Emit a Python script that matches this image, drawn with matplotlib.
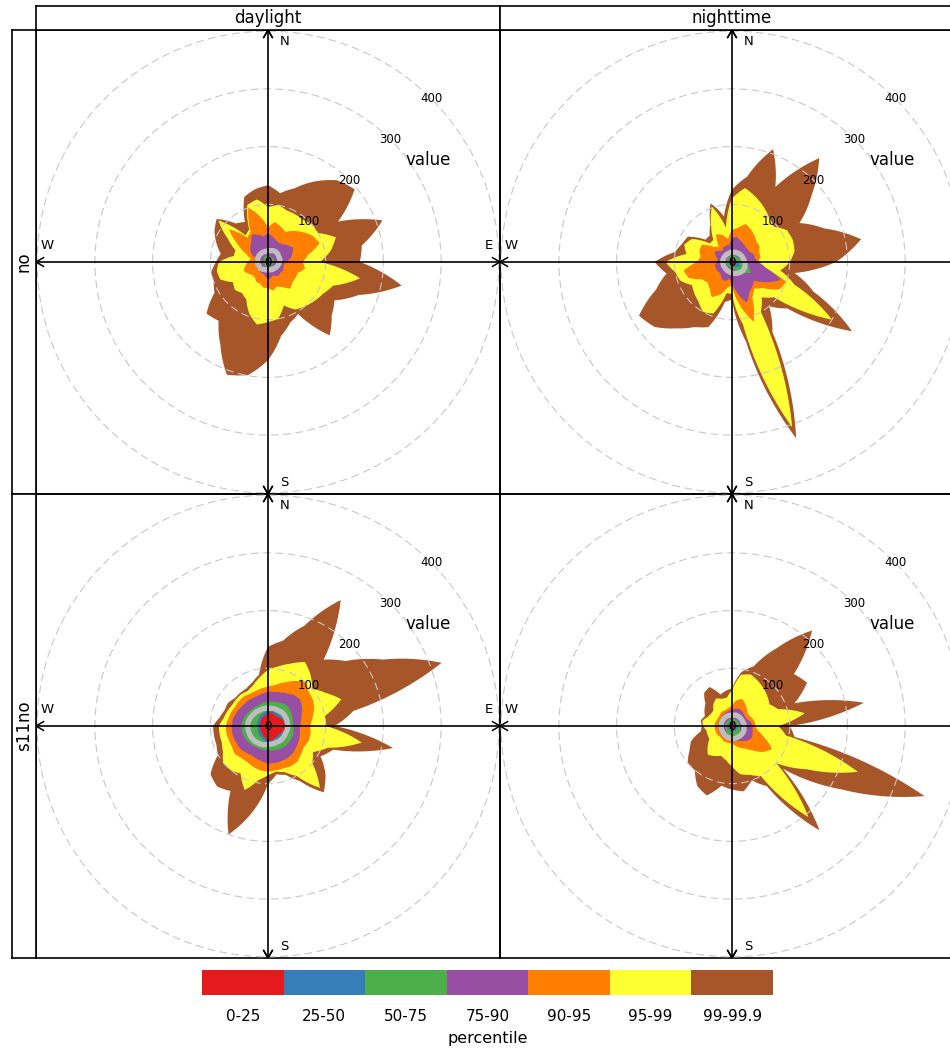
import numpy as np
import matplotlib.pyplot as plt
from matplotlib.path import Path
from matplotlib.patches import PathPatch

# wind directions (degrees from north) of every percentile point
dirs = np.arange(0, 360, 10)

levels = ['0-25', '25-50', '50-75', '75-90', '90-95', '95-99', '99-99.9']
colours = ['#E41A1C', '#377EB8', '#4DAF4A', '#984EA3', '#FF7F00', '#FFFF33', '#A65628']
grid_vals = [100, 200, 300, 400]

# ---- no, daylight
no_day_p25 = [4, 4, 4, 4, 4, 4, 4, 4, 4, 4, 3, 3, 3, 3, 3, 3, 3, 3, 3, 3, 3, 3, 3, 3, 3, 3, 3, 3, 3, 3, 3, 4, 4, 4, 4, 4]
no_day_p50 = [7, 7, 7, 7, 7, 7, 7, 7, 7, 6, 6, 6, 6, 6, 6, 5, 5, 5, 6, 5, 5, 5, 5, 5, 5, 5, 5, 5, 5, 6, 6, 6, 6, 7, 7, 7]
no_day_p75 = [11, 11, 11, 10, 10, 11, 11, 11, 11, 10, 10, 9, 9, 9, 9, 9, 9, 9, 9, 9, 8, 8, 8, 8, 8, 8, 8, 8, 8, 9, 9, 10, 10, 11, 11, 11]
no_day_p90 = [50, 45, 40, 38, 40, 45, 50, 45, 40, 30, 28, 28, 30, 28, 30, 28, 25, 28, 30, 25, 22, 22, 22, 20, 22, 22, 20, 20, 20, 25, 35, 40, 45, 55, 50, 45]
no_day_p95 = [60, 70, 65, 60, 70, 80, 90, 95, 70, 60, 65, 55, 55, 55, 60, 50, 45, 50, 45, 45, 40, 40, 35, 35, 40, 45, 40, 35, 30, 40, 60, 88, 55, 60, 100, 80]
no_day_p99 = [95, 100, 95, 95, 95, 100, 100, 125, 110, 90, 162, 120, 110, 105, 100, 95, 80, 100, 104, 110, 95, 75, 70, 75, 70, 88, 90, 85, 60, 60, 80, 112, 60, 65, 105, 110]
no_day_p999 = [133, 121, 136, 161, 185, 196, 140, 211, 165, 159, 235, 167, 133, 144, 166, 104, 112, 130, 170, 199, 208, 165, 133, 139, 107, 100, 100, 90, 83, 95, 107, 116, 87, 80, 120, 128]
no_day_mean = [19, 20, 21, 22, 22, 22, 21, 21, 21, 20, 19, 18, 17, 16, 15, 15, 14, 14, 14, 14, 14, 15, 16, 17, 17, 17, 18, 18, 18, 19, 19, 19, 19, 19, 19, 19]

# ---- no, nighttime
no_night_p25 = [4, 4, 4, 4, 5, 5, 5, 5, 5, 5, 6, 7, 8, 7, 6, 5, 5, 5, 4, 4, 4, 4, 4, 4, 4, 4, 4, 4, 4, 4, 4, 4, 4, 4, 4, 4]
no_night_p50 = [7, 7, 7, 7, 8, 8, 8, 8, 9, 10, 12, 14, 16, 14, 11, 9, 8, 8, 7, 7, 7, 7, 6, 6, 6, 6, 6, 6, 6, 6, 6, 7, 7, 7, 7, 7]
no_night_p75 = [11, 11, 12, 12, 12, 12, 13, 14, 16, 19, 24, 32, 38, 30, 22, 17, 14, 12, 11, 10, 10, 10, 10, 10, 10, 10, 10, 10, 10, 10, 10, 10, 10, 10, 10, 11]
no_night_p90 = [40, 45, 40, 38, 35, 35, 35, 40, 40, 45, 60, 90, 70, 50, 55, 60, 75, 55, 35, 30, 35, 35, 30, 28, 30, 30, 30, 25, 25, 30, 35, 30, 25, 30, 30, 30]
no_night_p95 = [55, 60, 70, 65, 60, 55, 55, 50, 50, 45, 50, 100, 95, 70, 60, 70, 110, 75, 40, 45, 60, 70, 60, 55, 60, 80, 85, 60, 55, 60, 60, 40, 35, 55, 50, 40]
no_night_p99 = [110, 130, 120, 110, 100, 95, 110, 112, 110, 100, 85, 115, 200, 95, 80, 100, 305, 110, 55, 55, 95, 100, 90, 85, 80, 95, 100, 115, 80, 88, 80, 50, 50, 72, 102, 60]
no_night_p999 = [125, 150, 208, 150, 235, 180, 135, 170, 227, 180, 110, 150, 240, 125, 100, 140, 325, 140, 65, 70, 120, 130, 150, 175, 186, 140, 115, 134, 100, 92, 88, 60, 60, 75, 108, 80]
no_night_mean = [17, 17, 18, 18, 19, 19, 20, 20, 21, 22, 23, 24, 24, 24, 23, 22, 21, 20, 19, 18, 17, 17, 16, 16, 16, 16, 16, 16, 16, 16, 16, 16, 16, 16, 16, 17]

# ---- s11no, daylight
s11_day_p25 = [22, 24, 24, 22, 22, 24, 26, 28, 29, 30, 29, 27, 25, 24, 24, 24, 25, 26, 25, 22, 20, 18, 17, 16, 15, 14, 14, 14, 14, 15, 15, 16, 17, 18, 19, 20]
s11_day_p50 = [27, 28, 28, 27, 27, 28, 30, 32, 33, 34, 33, 31, 29, 28, 28, 28, 29, 30, 29, 27, 25, 23, 22, 21, 20, 19, 19, 19, 19, 20, 20, 21, 22, 23, 24, 25]
s11_day_p75 = [42, 43, 44, 46, 48, 48, 46, 45, 44, 44, 45, 46, 46, 46, 46, 45, 44, 43, 42, 42, 42, 42, 43, 44, 45, 46, 46, 46, 45, 44, 42, 41, 40, 40, 40, 41]
s11_day_p90 = [59, 60, 62, 65, 70, 72, 68, 62, 58, 55, 56, 58, 60, 62, 64, 65, 65, 65, 65, 62, 60, 58, 60, 62, 62, 63, 63, 63, 62, 60, 58, 56, 56, 55, 55, 57]
s11_day_p95 = [68, 72, 80, 90, 100, 92, 90, 85, 78, 73, 75, 75, 72, 75, 80, 80, 78, 78, 79, 78, 75, 72, 72, 75, 72, 72, 73, 73, 70, 68, 66, 66, 66, 64, 64, 66]
s11_day_p99 = [97, 105, 115, 128, 115, 100, 115, 135, 100, 100, 165, 110, 90, 100, 140, 100, 85, 80, 85, 95, 118, 95, 100, 101, 90, 85, 85, 85, 78, 75, 72, 72, 72, 70, 75, 85]
s11_day_p999 = [137, 150, 185, 252, 150, 175, 230, 320, 150, 115, 220, 120, 105, 130, 150, 110, 90, 85, 100, 150, 200, 130, 137, 130, 100, 95, 95, 95, 85, 80, 80, 75, 75, 75, 80, 90]
s11_day_mean = [31, 31, 32, 32, 33, 34, 34, 34, 34, 34, 34, 33, 33, 33, 33, 32, 32, 32, 32, 33, 34, 34, 35, 35, 35, 35, 35, 35, 35, 34, 33, 32, 32, 31, 31, 31]

# ---- s11no, nighttime
s11_night_p25 = [5, 5, 6, 6, 6, 6, 6, 6, 7, 7, 7, 7, 7, 7, 7, 7, 7, 7, 7, 6, 6, 6, 6, 5, 5, 5, 5, 5, 5, 5, 5, 5, 5, 5, 5, 5]
s11_night_p50 = [8, 8, 9, 9, 9, 9, 9, 9, 10, 10, 10, 10, 10, 10, 10, 10, 10, 10, 10, 10, 9, 9, 9, 8, 8, 8, 8, 8, 8, 8, 8, 8, 8, 8, 8, 8]
s11_night_p75 = [12, 12, 13, 13, 13, 13, 13, 13, 14, 14, 14, 15, 16, 17, 18, 19, 20, 21, 22, 20, 17, 15, 14, 13, 12, 12, 12, 12, 12, 12, 12, 12, 12, 12, 12, 12]
s11_night_p90 = [28, 30, 32, 32, 30, 28, 28, 30, 34, 36, 36, 38, 40, 38, 34, 30, 28, 26, 25, 24, 24, 24, 24, 24, 24, 24, 24, 24, 24, 24, 24, 24, 25, 25, 26, 27]
s11_night_p95 = [35, 45, 50, 45, 40, 35, 35, 38, 40, 40, 45, 60, 80, 70, 55, 45, 40, 35, 30, 30, 30, 30, 28, 28, 30, 30, 30, 30, 30, 28, 28, 28, 30, 30, 30, 32]
s11_night_p99 = [62, 90, 95, 90, 85, 80, 75, 85, 128, 80, 95, 232, 150, 100, 206, 100, 90, 85, 70, 60, 55, 60, 65, 55, 45, 45, 45, 50, 52, 45, 42, 42, 50, 55, 50, 50]
s11_night_p999 = [65, 95, 110, 156, 216, 140, 150, 115, 232, 100, 110, 355, 220, 115, 236, 120, 100, 115, 110, 105, 128, 120, 100, 100, 85, 75, 55, 52, 55, 50, 55, 60, 75, 78, 58, 62]
s11_night_mean = [19, 19, 20, 20, 20, 20, 20, 20, 21, 21, 21, 22, 22, 22, 22, 22, 22, 22, 22, 21, 21, 20, 20, 19, 19, 19, 19, 19, 19, 19, 19, 19, 19, 19, 19, 19]

panels = [
    (0, 0, [no_day_p25, no_day_p50, no_day_p75, no_day_p90, no_day_p95, no_day_p99, no_day_p999], no_day_mean),
    (0, 1, [no_night_p25, no_night_p50, no_night_p75, no_night_p90, no_night_p95, no_night_p99, no_night_p999], no_night_mean),
    (1, 0, [s11_day_p25, s11_day_p50, s11_day_p75, s11_day_p90, s11_day_p95, s11_day_p99, s11_day_p999], s11_day_mean),
    (1, 1, [s11_night_p25, s11_night_p50, s11_night_p75, s11_night_p90, s11_night_p95, s11_night_p99, s11_night_p999], s11_night_mean),
]
col_names = ['daylight', 'nighttime']
row_names = ['no', 's11no']

W, H = 950, 1053
fig = plt.figure(figsize=(W / 100, H / 100), dpi=100)


def px_rect(x, y, w, h):
    # figure fraction box from a pixel box, y measured from the top
    return [x / W, 1 - (y + h) / H, w / W, h / H]


def frame(ax, lw=1.2):
    ax.set_xticks([])
    ax.set_yticks([])
    for s in ax.spines.values():
        s.set_linewidth(lw)
        s.set_color('black')


def rose_path(vals):
    # closed ring in (theta, r); polar transform draws it in polar space
    v = np.asarray(list(vals) + [vals[0]], dtype=float)
    t = np.append(np.radians(dirs), 2 * np.pi)
    return Path(np.column_stack([t, v]), _interpolation_steps=16)


U = 402  # axis limit in concentration units
PW = 464  # panel size in pixels
circ = np.linspace(0, 2 * np.pi, 361)
arm = 15
a30 = np.radians(30)

for row, col, pcts, mean in panels:
    rect = px_rect(36 + PW * col, 30 + PW * row, PW, PW)

    # percentile roses on a polar axes underneath
    pax = fig.add_axes(rect, projection='polar')
    pax.set_theta_zero_location('N')
    pax.set_theta_direction(-1)
    for vals, c in reversed(list(zip(pcts, colours))):
        pax.add_patch(PathPatch(rose_path(vals), facecolor=c, lw=0, zorder=1))
    pax.add_patch(PathPatch(rose_path(mean), facecolor='none', edgecolor='#BEBEBE',
                            lw=3.8, joinstyle='round', zorder=2))
    pax.set_ylim(0, U)
    pax.axis('off')

    # frame, grid and compass on top
    ax = fig.add_axes(rect)
    ax.set_facecolor('none')
    ax.set_xlim(-U, U)
    ax.set_ylim(-U, U)
    frame(ax)

    for g in grid_vals:
        ax.plot(g * np.cos(circ), g * np.sin(circ), color='#C8C8C8', lw=0.8,
                dashes=(7, 4), zorder=3)
    for g in [0] + grid_vals:
        ax.text(g * np.sin(np.pi / 4), g * np.cos(np.pi / 4), str(g),
                ha='center', va='center', fontsize=8.5, zorder=5)
    ax.text(277, 177, 'value', ha='center', va='center', fontsize=12, zorder=5)

    ax.plot([-U, U], [0, 0], color='black', lw=1.2, zorder=4)
    ax.plot([0, 0], [-U, U], color='black', lw=1.2, zorder=4)
    dx, dy = arm * np.sin(a30), arm * np.cos(a30)
    for sx in (-1, 1):
        ax.plot([sx * dx, 0, -sx * dx], [U - dy, U, U - dy], color='black', lw=1.1, zorder=4)
        ax.plot([sx * dx, 0, -sx * dx], [-U + dy, -U, -U + dy], color='black', lw=1.1, zorder=4)
        ax.plot([sx * (U - dy), sx * U, sx * (U - dy)], [dx, 0, -dx], color='black', lw=1.1, zorder=4)
    ax.text(0.07 * U, 0.95 * U, 'N', ha='center', va='center', fontsize=9.5, zorder=5)
    ax.text(0.07 * U, -0.95 * U, 'S', ha='center', va='center', fontsize=9.5, zorder=5)
    ax.text(-0.95 * U, 0.07 * U, 'W', ha='center', va='center', fontsize=9.5, zorder=5)
    ax.text(0.95 * U, 0.07 * U, 'E', ha='center', va='center', fontsize=9.5, zorder=5)

# strips
for col, name in enumerate(col_names):
    sax = fig.add_axes(px_rect(36 + PW * col, 6, PW, 24))
    frame(sax)
    sax.text(0.5, 0.5, name, ha='center', va='center', fontsize=12, transform=sax.transAxes)
for row, name in enumerate(row_names):
    sax = fig.add_axes(px_rect(12, 30 + PW * row, 24, PW))
    frame(sax)
    sax.text(0.5, 0.5, name, ha='center', va='center', fontsize=12, rotation=90,
             transform=sax.transAxes)

# percentile key
kax = fig.add_axes(px_rect(202, 970, 571, 25))
kax.bar(range(len(levels)), [1] * len(levels), width=1, color=colours, lw=0)
kax.set_xlim(-0.5, len(levels) - 0.5)
kax.set_ylim(0, 1)
kax.set_yticks([])
kax.set_xticks(range(len(levels)), levels)
kax.tick_params(axis='x', length=0, pad=10, labelsize=11)
for s in kax.spines.values():
    s.set_visible(False)
kax.set_xlabel('percentile', fontsize=11.5, labelpad=5)

fig.savefig('out.png', dpi=100)
